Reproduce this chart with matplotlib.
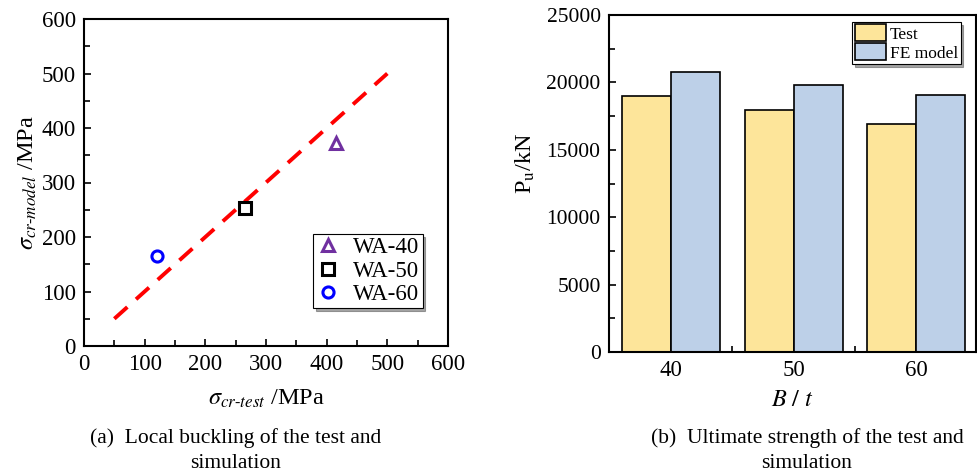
"""Local buckling and ultimate strength: test vs. FE model."""

import matplotlib
matplotlib.use("Agg")
import matplotlib.pyplot as plt
import numpy as np
from matplotlib.ticker import MultipleLocator

plt.rcParams["font.family"] = ["Liberation Serif", "DejaVu Serif"]
plt.rcParams["mathtext.fontset"] = "stix"

# (a) critical buckling stress, test vs model (MPa)
specimens = ["WA-40", "WA-50", "WA-60"]
sigma_test = [415, 266, 121]
sigma_model = [372, 254, 166]
ref_line = [50, 500]

# (b) ultimate strength (kN)
ratios = ["40", "50", "60"]
pu_test = [19000, 17950, 16900]
pu_fe = [20800, 19800, 19100]

MARKERS = {"WA-40": ("^", "#7030A0"), "WA-50": ("s", "black"), "WA-60": ("o", "#0000FF")}
TEST_COLOR = "#FDE59A"
FE_COLOR = "#BDD0E8"

W, H = 977, 476
fig = plt.figure(figsize=(W / 100, H / 100), dpi=100)


def _axes(left, top, right, bottom):
    return fig.add_axes([left / W, 1 - bottom / H, (right - left) / W, (bottom - top) / H])


def _style(ax, size):
    ax.tick_params(which="both", direction="in", labelsize=size, pad=6)
    ax.tick_params(which="major", length=5, width=1.2)
    ax.tick_params(which="minor", length=4, width=1.2)
    for spine in ax.spines.values():
        spine.set_linewidth(1.5)


# ---- (a) scatter ----
ax1 = _axes(84, 19, 448, 346)
ax1.plot(ref_line, ref_line, color="#FF0000", lw=2.8, ls=(0, (4.5, 3.0)), zorder=1)
for name, xt, ym in zip(specimens, sigma_test, sigma_model):
    marker, color = MARKERS[name]
    ax1.plot(xt, ym, ls="none", marker=marker, ms=8, mfc="none", mec=color, mew=2.2,
             label=name, zorder=3)
ax1.set_xlim(0, 600)
ax1.set_ylim(0, 600)
ax1.xaxis.set_major_locator(MultipleLocator(100))
ax1.yaxis.set_major_locator(MultipleLocator(100))
ax1.xaxis.set_minor_locator(MultipleLocator(50))
ax1.yaxis.set_minor_locator(MultipleLocator(50))
_style(ax1, 16.5)
ax1.set_xlabel(r"$\sigma_{cr\text{-}test}$ /MPa", fontsize=17.5, labelpad=9)
ax1.set_ylabel(r"$\sigma_{cr\text{-}model}$ /MPa", fontsize=17.5, labelpad=2)
leg1 = ax1.legend(loc="lower right", bbox_to_anchor=(0.93, 0.115), fontsize=16.5,
                  frameon=True, fancybox=False, shadow=True, borderpad=0.15,
                  handletextpad=0.6, labelspacing=0.1, handlelength=1.0,
                  borderaxespad=0)
leg1.get_frame().set_edgecolor("black")
leg1.get_frame().set_linewidth(0.8)

# ---- (b) grouped bars ----
ax2 = _axes(609, 15, 976, 352)
x = np.arange(len(ratios))
bw = 0.4
ax2.bar(x - bw / 2, pu_test, bw, color=TEST_COLOR, edgecolor="black", lw=1.2, label="Test")
ax2.bar(x + bw / 2, pu_fe, bw, color=FE_COLOR, edgecolor="black", lw=1.2, label="FE model")
ax2.set_xlim(-0.507, 2.49)
ax2.set_ylim(0, 25000)
ax2.set_xticks(x)
ax2.set_xticklabels(ratios)
ax2.set_xticks([0.5, 1.5], minor=True)
ax2.yaxis.set_major_locator(MultipleLocator(5000))
ax2.yaxis.set_minor_locator(MultipleLocator(2500))
_style(ax2, 15.5)
ax2.tick_params(axis="x", which="major", length=0, labelsize=16.5)
ax2.set_xlabel(r"$B\ /\ t$", fontsize=17.5, labelpad=6)
ax2.set_ylabel(r"P$_\mathrm{u}$/kN", fontsize=17.5, labelpad=8)
ax2.yaxis.set_label_coords(-0.195, 0.56)
leg2 = ax2.legend(loc="upper right", bbox_to_anchor=(0.958, 0.98), fontsize=12.5,
                  frameon=True, fancybox=False, shadow=True, borderpad=0.15,
                  handletextpad=0.2, labelspacing=0.05, handlelength=1.8,
                  handleheight=1.1, borderaxespad=0)
leg2.get_frame().set_edgecolor("black")
leg2.get_frame().set_linewidth(0.8)

# ---- captions ----
cap = dict(ha="center", va="center", fontsize=15.5)
fig.text(236 / W, 1 - 438 / H, "(a)  Local buckling of the test and", **cap)
fig.text(236 / W, 1 - 463 / H, "simulation", **cap)
fig.text(807 / W, 1 - 438 / H, "(b)  Ultimate strength of the test and", **cap)
fig.text(807 / W, 1 - 463 / H, "simulation", **cap)

fig.savefig("out.png", dpi=100)
